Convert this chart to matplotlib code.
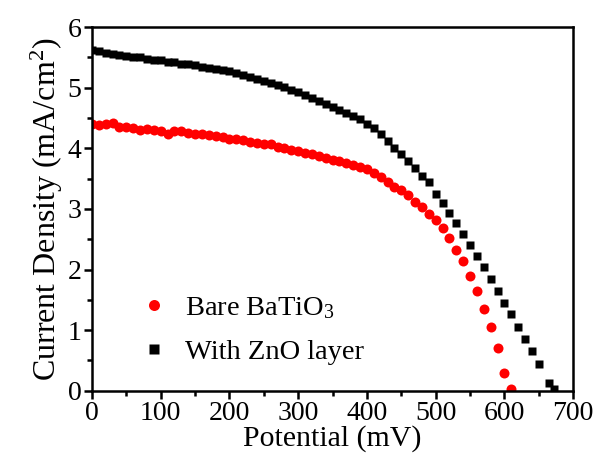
import matplotlib
matplotlib.use("Agg")
import matplotlib.pyplot as plt
from matplotlib.ticker import MultipleLocator

plt.rcParams['font.family'] = ['Liberation Serif', 'DejaVu Serif']
plt.rcParams['mathtext.fontset'] = 'custom'
plt.rcParams['mathtext.rm'] = 'Liberation Serif'
plt.rcParams['mathtext.it'] = 'Liberation Serif:italic'

# J-V data, potential in mV, current density in mA/cm2
v_bare = [0, 10, 20, 30, 40, 50, 60, 70, 80, 90,
          100, 110, 120, 130, 140, 150, 160, 170, 180, 190,
          200, 210, 220, 230, 240, 250, 260, 270, 280, 290,
          300, 310, 320, 330, 340, 350, 360, 370, 380, 390,
          400, 410, 420, 430, 440, 450, 460, 470, 480, 490,
          500, 510, 520, 530, 540, 550, 560, 570, 580, 590,
          600, 610]
j_bare = [4.40, 4.38, 4.40, 4.42, 4.36, 4.36, 4.34, 4.31, 4.32, 4.31,
          4.28, 4.23, 4.28, 4.29, 4.25, 4.24, 4.24, 4.22, 4.20, 4.19,
          4.16, 4.15, 4.14, 4.10, 4.09, 4.08, 4.07, 4.03, 4.00, 3.98,
          3.95, 3.92, 3.90, 3.87, 3.84, 3.81, 3.79, 3.76, 3.73, 3.70,
          3.66, 3.59, 3.52, 3.44, 3.36, 3.31, 3.23, 3.12, 3.03, 2.92,
          2.81, 2.68, 2.52, 2.33, 2.14, 1.89, 1.64, 1.35, 1.05, 0.70,
          0.30, 0.03]

v_zno = [0, 10, 20, 30, 40, 50, 60, 70, 80, 90,
         100, 110, 120, 130, 140, 150, 160, 170, 180, 190,
         200, 210, 220, 230, 240, 250, 260, 270, 280, 290,
         300, 310, 320, 330, 340, 350, 360, 370, 380, 390,
         400, 410, 420, 430, 440, 450, 460, 470, 480, 490,
         500, 510, 520, 530, 540, 550, 560, 570, 580, 590,
         600, 610, 620, 630, 640, 650, 665, 672]
j_zno = [5.62, 5.60, 5.58, 5.56, 5.54, 5.53, 5.51, 5.50, 5.48, 5.46,
         5.45, 5.43, 5.42, 5.40, 5.39, 5.37, 5.35, 5.33, 5.31, 5.29,
         5.27, 5.24, 5.21, 5.17, 5.14, 5.11, 5.08, 5.04, 5.01, 4.97,
         4.93, 4.88, 4.83, 4.78, 4.73, 4.68, 4.64, 4.59, 4.54, 4.48,
         4.41, 4.33, 4.23, 4.12, 4.01, 3.90, 3.79, 3.68, 3.55, 3.44,
         3.24, 3.10, 2.93, 2.77, 2.59, 2.41, 2.22, 2.04, 1.85, 1.65,
         1.45, 1.26, 1.06, 0.86, 0.65, 0.44, 0.13, 0.03]

fig = plt.figure(figsize=(5.97, 4.68), dpi=100)
ax = fig.add_axes([0.154, 0.165, 0.806, 0.777])

ax.plot(v_bare, j_bare, 'o', color='#ff0000', ms=7.2, mec='none', label='Bare BaTiO$_3$')
ax.plot(v_zno, j_zno, 's', color='black', ms=6.3, mec='none', label='With ZnO layer')

ax.set_xlim(0, 700)
ax.set_ylim(0, 6)
ax.xaxis.set_major_locator(MultipleLocator(100))
ax.xaxis.set_minor_locator(MultipleLocator(50))
ax.yaxis.set_major_locator(MultipleLocator(1))
ax.yaxis.set_minor_locator(MultipleLocator(0.5))
ax.tick_params(which='both', direction='out', top=False, right=False, width=1.8, labelsize=20, pad=1.5)
ax.tick_params(which='major', length=6)
ax.tick_params(which='minor', length=3.5)
for s in ax.spines.values():
    s.set_linewidth(1.8)

ax.set_xlabel('Potential (mV)', fontsize=21.5, labelpad=-1)
ax.set_ylabel('Current Density (mA/cm$^2$)', fontsize=23, labelpad=2)

ax.legend(loc='lower left', bbox_to_anchor=(0.07, 0.04), frameon=False, fontsize=20.5,
          handletextpad=0.5, labelspacing=0.62, borderaxespad=0, handlelength=1.2,
          markerscale=1.1)

fig.savefig('out.png', dpi=100)
